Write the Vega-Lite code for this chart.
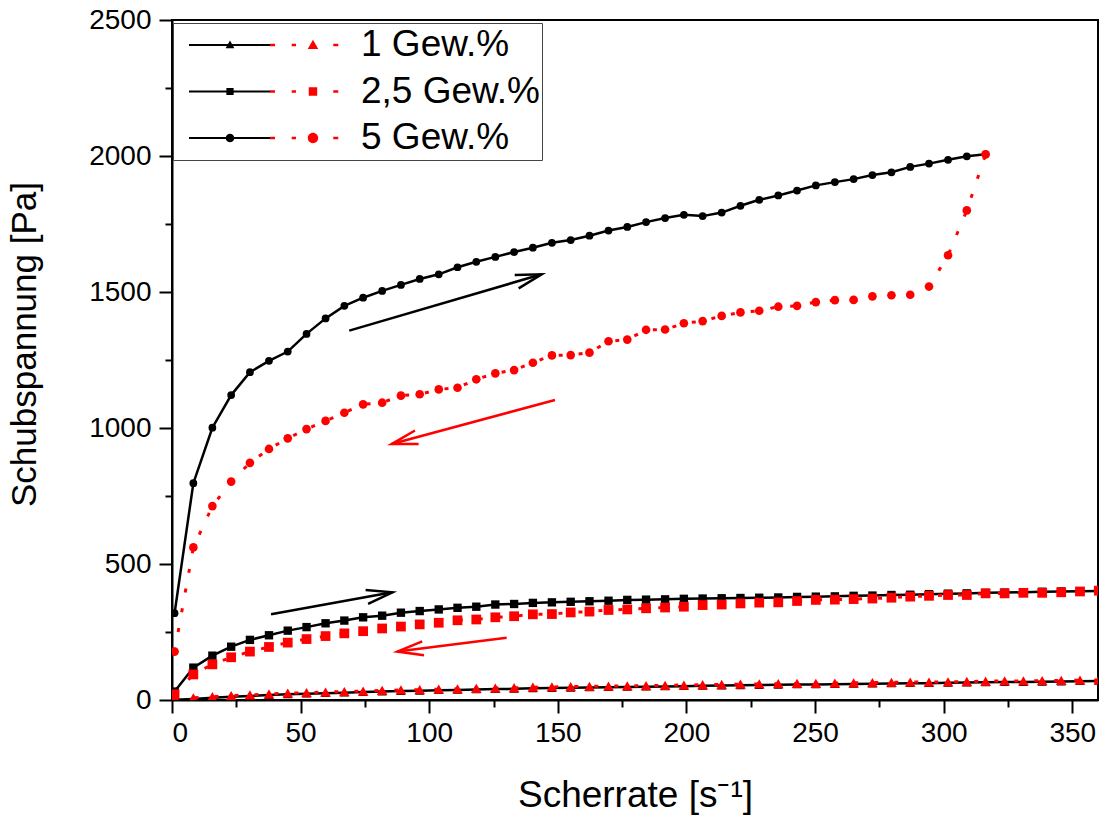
{
  "$schema": "https://vega.github.io/schema/vega-lite/v6.json",
  "width": 926,
  "height": 680,
  "autosize": {"type": "none"},
  "padding": {"left": 172, "top": 20, "right": 5, "bottom": 116},
  "background": "white",
  "config": {
    "font": "Liberation Sans",
    "view": {"stroke": "black", "strokeWidth": 2},
    "axis": {"grid": false, "domainColor": "black", "domainWidth": 2, "tickColor": "black", "tickWidth": 2, "labelColor": "black", "titleColor": "black", "labelFont": "Liberation Sans", "titleFont": "Liberation Sans", "labelFontSize": 28, "titleFontSize": 37, "titleFontWeight": "normal"}
  },
  "datasets": {
    "pfeile": [
      {"id": "a1", "x1": 68.9, "y1": 1358, "x2": 143.7, "y2": 1565},
      {"id": "a2", "x1": 38.5, "y1": 315, "x2": 85.7, "y2": 396},
      {"id": "a3", "x1": 148.9, "y1": 1103, "x2": 85.4, "y2": 941},
      {"id": "a4", "x1": 130.1, "y1": 229, "x2": 87.6, "y2": 178}
    ],
    "messung": [
      {"konz":"5 Gew.%","ri":"auf","rate":1,"tau":319},{"konz":"5 Gew.%","ri":"auf","rate":8.3,"tau":797},{"konz":"5 Gew.%","ri":"auf","rate":15.7,"tau":1001},{"konz":"5 Gew.%","ri":"auf","rate":23,"tau":1121},{"konz":"5 Gew.%","ri":"auf","rate":30.3,"tau":1205},{"konz":"5 Gew.%","ri":"auf","rate":37.7,"tau":1247},{"konz":"5 Gew.%","ri":"auf","rate":45,"tau":1281},{"konz":"5 Gew.%","ri":"auf","rate":52.3,"tau":1346},{"konz":"5 Gew.%","ri":"auf","rate":59.7,"tau":1403},{"konz":"5 Gew.%","ri":"auf","rate":67,"tau":1449},{"konz":"5 Gew.%","ri":"auf","rate":74.3,"tau":1479},{"konz":"5 Gew.%","ri":"auf","rate":81.7,"tau":1504},{"konz":"5 Gew.%","ri":"auf","rate":89,"tau":1526},{"konz":"5 Gew.%","ri":"auf","rate":96.3,"tau":1548},{"konz":"5 Gew.%","ri":"auf","rate":103.7,"tau":1565},{"konz":"5 Gew.%","ri":"auf","rate":111,"tau":1591},{"konz":"5 Gew.%","ri":"auf","rate":118.3,"tau":1611},{"konz":"5 Gew.%","ri":"auf","rate":125.7,"tau":1629},{"konz":"5 Gew.%","ri":"auf","rate":133,"tau":1647},{"konz":"5 Gew.%","ri":"auf","rate":140.3,"tau":1663},{"konz":"5 Gew.%","ri":"auf","rate":147.7,"tau":1681},{"konz":"5 Gew.%","ri":"auf","rate":155,"tau":1691},{"konz":"5 Gew.%","ri":"auf","rate":162.3,"tau":1707},{"konz":"5 Gew.%","ri":"auf","rate":169.7,"tau":1726},{"konz":"5 Gew.%","ri":"auf","rate":177,"tau":1739},{"konz":"5 Gew.%","ri":"auf","rate":184.3,"tau":1757},{"konz":"5 Gew.%","ri":"auf","rate":191.7,"tau":1772},{"konz":"5 Gew.%","ri":"auf","rate":199,"tau":1784},{"konz":"5 Gew.%","ri":"auf","rate":206.3,"tau":1779},{"konz":"5 Gew.%","ri":"auf","rate":213.7,"tau":1792},{"konz":"5 Gew.%","ri":"auf","rate":221,"tau":1817},{"konz":"5 Gew.%","ri":"auf","rate":228.3,"tau":1839},{"konz":"5 Gew.%","ri":"auf","rate":235.7,"tau":1855},{"konz":"5 Gew.%","ri":"auf","rate":243,"tau":1873},{"konz":"5 Gew.%","ri":"auf","rate":250.3,"tau":1892},{"konz":"5 Gew.%","ri":"auf","rate":257.7,"tau":1904},{"konz":"5 Gew.%","ri":"auf","rate":265,"tau":1915},{"konz":"5 Gew.%","ri":"auf","rate":272.3,"tau":1930},{"konz":"5 Gew.%","ri":"auf","rate":279.7,"tau":1940},{"konz":"5 Gew.%","ri":"auf","rate":287,"tau":1960},{"konz":"5 Gew.%","ri":"auf","rate":294.3,"tau":1972},{"konz":"5 Gew.%","ri":"auf","rate":301.7,"tau":1986},{"konz":"5 Gew.%","ri":"auf","rate":309,"tau":1999},{"konz":"5 Gew.%","ri":"auf","rate":316.3,"tau":2006},
      {"konz":"5 Gew.%","ri":"ab","rate":1,"tau":178},{"konz":"5 Gew.%","ri":"ab","rate":8.3,"tau":561},{"konz":"5 Gew.%","ri":"ab","rate":15.7,"tau":713},{"konz":"5 Gew.%","ri":"ab","rate":23,"tau":803},{"konz":"5 Gew.%","ri":"ab","rate":30.3,"tau":872},{"konz":"5 Gew.%","ri":"ab","rate":37.7,"tau":923},{"konz":"5 Gew.%","ri":"ab","rate":45,"tau":962},{"konz":"5 Gew.%","ri":"ab","rate":52.3,"tau":996},{"konz":"5 Gew.%","ri":"ab","rate":59.7,"tau":1026},{"konz":"5 Gew.%","ri":"ab","rate":67,"tau":1056},{"konz":"5 Gew.%","ri":"ab","rate":74.3,"tau":1087},{"konz":"5 Gew.%","ri":"ab","rate":81.7,"tau":1093},{"konz":"5 Gew.%","ri":"ab","rate":89,"tau":1119},{"konz":"5 Gew.%","ri":"ab","rate":96.3,"tau":1124},{"konz":"5 Gew.%","ri":"ab","rate":103.7,"tau":1142},{"konz":"5 Gew.%","ri":"ab","rate":111,"tau":1148},{"konz":"5 Gew.%","ri":"ab","rate":118.3,"tau":1179},{"konz":"5 Gew.%","ri":"ab","rate":125.7,"tau":1201},{"konz":"5 Gew.%","ri":"ab","rate":133,"tau":1213},{"konz":"5 Gew.%","ri":"ab","rate":140.3,"tau":1240},{"konz":"5 Gew.%","ri":"ab","rate":147.7,"tau":1267},{"konz":"5 Gew.%","ri":"ab","rate":155,"tau":1268},{"konz":"5 Gew.%","ri":"ab","rate":162.3,"tau":1277},{"konz":"5 Gew.%","ri":"ab","rate":169.7,"tau":1319},{"konz":"5 Gew.%","ri":"ab","rate":177,"tau":1325},{"konz":"5 Gew.%","ri":"ab","rate":184.3,"tau":1361},{"konz":"5 Gew.%","ri":"ab","rate":191.7,"tau":1362},{"konz":"5 Gew.%","ri":"ab","rate":199,"tau":1385},{"konz":"5 Gew.%","ri":"ab","rate":206.3,"tau":1393},{"konz":"5 Gew.%","ri":"ab","rate":213.7,"tau":1412},{"konz":"5 Gew.%","ri":"ab","rate":221,"tau":1425},{"konz":"5 Gew.%","ri":"ab","rate":228.3,"tau":1431},{"konz":"5 Gew.%","ri":"ab","rate":235.7,"tau":1446},{"konz":"5 Gew.%","ri":"ab","rate":243,"tau":1449},{"konz":"5 Gew.%","ri":"ab","rate":250.3,"tau":1463},{"konz":"5 Gew.%","ri":"ab","rate":257.7,"tau":1470},{"konz":"5 Gew.%","ri":"ab","rate":265,"tau":1471},{"konz":"5 Gew.%","ri":"ab","rate":272.3,"tau":1484},{"konz":"5 Gew.%","ri":"ab","rate":279.7,"tau":1488},{"konz":"5 Gew.%","ri":"ab","rate":287,"tau":1490},{"konz":"5 Gew.%","ri":"ab","rate":294.3,"tau":1520},{"konz":"5 Gew.%","ri":"ab","rate":301.7,"tau":1635},{"konz":"5 Gew.%","ri":"ab","rate":309,"tau":1800},{"konz":"5 Gew.%","ri":"ab","rate":316.3,"tau":2006},
      {"konz":"2,5 Gew.%","ri":"auf","rate":1,"tau":31},{"konz":"2,5 Gew.%","ri":"auf","rate":8.3,"tau":119},{"konz":"2,5 Gew.%","ri":"auf","rate":15.7,"tau":163},{"konz":"2,5 Gew.%","ri":"auf","rate":23,"tau":196},{"konz":"2,5 Gew.%","ri":"auf","rate":30.3,"tau":221},{"konz":"2,5 Gew.%","ri":"auf","rate":37.7,"tau":238},{"konz":"2,5 Gew.%","ri":"auf","rate":45,"tau":255},{"konz":"2,5 Gew.%","ri":"auf","rate":52.3,"tau":268},{"konz":"2,5 Gew.%","ri":"auf","rate":59.7,"tau":282},{"konz":"2,5 Gew.%","ri":"auf","rate":67,"tau":292},{"konz":"2,5 Gew.%","ri":"auf","rate":74.3,"tau":304},{"konz":"2,5 Gew.%","ri":"auf","rate":81.7,"tau":310},{"konz":"2,5 Gew.%","ri":"auf","rate":89,"tau":321},{"konz":"2,5 Gew.%","ri":"auf","rate":96.3,"tau":327},{"konz":"2,5 Gew.%","ri":"auf","rate":103.7,"tau":333},{"konz":"2,5 Gew.%","ri":"auf","rate":111,"tau":339},{"konz":"2,5 Gew.%","ri":"auf","rate":118.3,"tau":343},{"konz":"2,5 Gew.%","ri":"auf","rate":125.7,"tau":351},{"konz":"2,5 Gew.%","ri":"auf","rate":133,"tau":353},{"konz":"2,5 Gew.%","ri":"auf","rate":140.3,"tau":357},{"konz":"2,5 Gew.%","ri":"auf","rate":147.7,"tau":359},{"konz":"2,5 Gew.%","ri":"auf","rate":155,"tau":361},{"konz":"2,5 Gew.%","ri":"auf","rate":162.3,"tau":363},{"konz":"2,5 Gew.%","ri":"auf","rate":169.7,"tau":365},{"konz":"2,5 Gew.%","ri":"auf","rate":177,"tau":368},{"konz":"2,5 Gew.%","ri":"auf","rate":184.3,"tau":369},{"konz":"2,5 Gew.%","ri":"auf","rate":191.7,"tau":370},{"konz":"2,5 Gew.%","ri":"auf","rate":199,"tau":372},{"konz":"2,5 Gew.%","ri":"auf","rate":206.3,"tau":373},{"konz":"2,5 Gew.%","ri":"auf","rate":213.7,"tau":374},{"konz":"2,5 Gew.%","ri":"auf","rate":221,"tau":375},{"konz":"2,5 Gew.%","ri":"auf","rate":228.3,"tau":376},{"konz":"2,5 Gew.%","ri":"auf","rate":235.7,"tau":377},{"konz":"2,5 Gew.%","ri":"auf","rate":243,"tau":379},{"konz":"2,5 Gew.%","ri":"auf","rate":250.3,"tau":380},{"konz":"2,5 Gew.%","ri":"auf","rate":257.7,"tau":381},{"konz":"2,5 Gew.%","ri":"auf","rate":265,"tau":383},{"konz":"2,5 Gew.%","ri":"auf","rate":272.3,"tau":384},{"konz":"2,5 Gew.%","ri":"auf","rate":279.7,"tau":386},{"konz":"2,5 Gew.%","ri":"auf","rate":287,"tau":387},{"konz":"2,5 Gew.%","ri":"auf","rate":294.3,"tau":389},{"konz":"2,5 Gew.%","ri":"auf","rate":301.7,"tau":391},{"konz":"2,5 Gew.%","ri":"auf","rate":309,"tau":392},{"konz":"2,5 Gew.%","ri":"auf","rate":316.3,"tau":394},{"konz":"2,5 Gew.%","ri":"auf","rate":323.7,"tau":395},{"konz":"2,5 Gew.%","ri":"auf","rate":331,"tau":396},{"konz":"2,5 Gew.%","ri":"auf","rate":338.3,"tau":398},{"konz":"2,5 Gew.%","ri":"auf","rate":345.7,"tau":399},{"konz":"2,5 Gew.%","ri":"auf","rate":353,"tau":400},{"konz":"2,5 Gew.%","ri":"auf","rate":360.3,"tau":401},
      {"konz":"2,5 Gew.%","ri":"ab","rate":1,"tau":21},{"konz":"2,5 Gew.%","ri":"ab","rate":8.3,"tau":94},{"konz":"2,5 Gew.%","ri":"ab","rate":15.7,"tau":131},{"konz":"2,5 Gew.%","ri":"ab","rate":23,"tau":157},{"konz":"2,5 Gew.%","ri":"ab","rate":30.3,"tau":178},{"konz":"2,5 Gew.%","ri":"ab","rate":37.7,"tau":195},{"konz":"2,5 Gew.%","ri":"ab","rate":45,"tau":211},{"konz":"2,5 Gew.%","ri":"ab","rate":52.3,"tau":224},{"konz":"2,5 Gew.%","ri":"ab","rate":59.7,"tau":235},{"konz":"2,5 Gew.%","ri":"ab","rate":67,"tau":245},{"konz":"2,5 Gew.%","ri":"ab","rate":74.3,"tau":253},{"konz":"2,5 Gew.%","ri":"ab","rate":81.7,"tau":263},{"konz":"2,5 Gew.%","ri":"ab","rate":89,"tau":270},{"konz":"2,5 Gew.%","ri":"ab","rate":96.3,"tau":278},{"konz":"2,5 Gew.%","ri":"ab","rate":103.7,"tau":284},{"konz":"2,5 Gew.%","ri":"ab","rate":111,"tau":293},{"konz":"2,5 Gew.%","ri":"ab","rate":118.3,"tau":296},{"konz":"2,5 Gew.%","ri":"ab","rate":125.7,"tau":304},{"konz":"2,5 Gew.%","ri":"ab","rate":133,"tau":308},{"konz":"2,5 Gew.%","ri":"ab","rate":140.3,"tau":315},{"konz":"2,5 Gew.%","ri":"ab","rate":147.7,"tau":316},{"konz":"2,5 Gew.%","ri":"ab","rate":155,"tau":322},{"konz":"2,5 Gew.%","ri":"ab","rate":162.3,"tau":325},{"konz":"2,5 Gew.%","ri":"ab","rate":169.7,"tau":331},{"konz":"2,5 Gew.%","ri":"ab","rate":177,"tau":333},{"konz":"2,5 Gew.%","ri":"ab","rate":184.3,"tau":337},{"konz":"2,5 Gew.%","ri":"ab","rate":191.7,"tau":340},{"konz":"2,5 Gew.%","ri":"ab","rate":199,"tau":343},{"konz":"2,5 Gew.%","ri":"ab","rate":206.3,"tau":349},{"konz":"2,5 Gew.%","ri":"ab","rate":213.7,"tau":351},{"konz":"2,5 Gew.%","ri":"ab","rate":221,"tau":355},{"konz":"2,5 Gew.%","ri":"ab","rate":228.3,"tau":358},{"konz":"2,5 Gew.%","ri":"ab","rate":235.7,"tau":359},{"konz":"2,5 Gew.%","ri":"ab","rate":243,"tau":364},{"konz":"2,5 Gew.%","ri":"ab","rate":250.3,"tau":368},{"konz":"2,5 Gew.%","ri":"ab","rate":257.7,"tau":369},{"konz":"2,5 Gew.%","ri":"ab","rate":265,"tau":371},{"konz":"2,5 Gew.%","ri":"ab","rate":272.3,"tau":373},{"konz":"2,5 Gew.%","ri":"ab","rate":279.7,"tau":376},{"konz":"2,5 Gew.%","ri":"ab","rate":287,"tau":380},{"konz":"2,5 Gew.%","ri":"ab","rate":294.3,"tau":383},{"konz":"2,5 Gew.%","ri":"ab","rate":301.7,"tau":386},{"konz":"2,5 Gew.%","ri":"ab","rate":309,"tau":386},{"konz":"2,5 Gew.%","ri":"ab","rate":316.3,"tau":392},{"konz":"2,5 Gew.%","ri":"ab","rate":323.7,"tau":392},{"konz":"2,5 Gew.%","ri":"ab","rate":331,"tau":394},{"konz":"2,5 Gew.%","ri":"ab","rate":338.3,"tau":394},{"konz":"2,5 Gew.%","ri":"ab","rate":345.7,"tau":396},{"konz":"2,5 Gew.%","ri":"ab","rate":353,"tau":399},{"konz":"2,5 Gew.%","ri":"ab","rate":360.3,"tau":402},
      {"konz":"1 Gew.%","ri":"auf","rate":1,"tau":1},{"konz":"1 Gew.%","ri":"auf","rate":8.3,"tau":4},{"konz":"1 Gew.%","ri":"auf","rate":15.7,"tau":8},{"konz":"1 Gew.%","ri":"auf","rate":23,"tau":12},{"konz":"1 Gew.%","ri":"auf","rate":30.3,"tau":15},{"konz":"1 Gew.%","ri":"auf","rate":37.7,"tau":18},{"konz":"1 Gew.%","ri":"auf","rate":45,"tau":21},{"konz":"1 Gew.%","ri":"auf","rate":52.3,"tau":23},{"konz":"1 Gew.%","ri":"auf","rate":59.7,"tau":25},{"konz":"1 Gew.%","ri":"auf","rate":67,"tau":27},{"konz":"1 Gew.%","ri":"auf","rate":74.3,"tau":29},{"konz":"1 Gew.%","ri":"auf","rate":81.7,"tau":31},{"konz":"1 Gew.%","ri":"auf","rate":89,"tau":33},{"konz":"1 Gew.%","ri":"auf","rate":96.3,"tau":34},{"konz":"1 Gew.%","ri":"auf","rate":103.7,"tau":36},{"konz":"1 Gew.%","ri":"auf","rate":111,"tau":37},{"konz":"1 Gew.%","ri":"auf","rate":118.3,"tau":39},{"konz":"1 Gew.%","ri":"auf","rate":125.7,"tau":40},{"konz":"1 Gew.%","ri":"auf","rate":133,"tau":41},{"konz":"1 Gew.%","ri":"auf","rate":140.3,"tau":43},{"konz":"1 Gew.%","ri":"auf","rate":147.7,"tau":44},{"konz":"1 Gew.%","ri":"auf","rate":155,"tau":45},{"konz":"1 Gew.%","ri":"auf","rate":162.3,"tau":46},{"konz":"1 Gew.%","ri":"auf","rate":169.7,"tau":47},{"konz":"1 Gew.%","ri":"auf","rate":177,"tau":48},{"konz":"1 Gew.%","ri":"auf","rate":184.3,"tau":49},{"konz":"1 Gew.%","ri":"auf","rate":191.7,"tau":50},{"konz":"1 Gew.%","ri":"auf","rate":199,"tau":51},{"konz":"1 Gew.%","ri":"auf","rate":206.3,"tau":52},{"konz":"1 Gew.%","ri":"auf","rate":213.7,"tau":53},{"konz":"1 Gew.%","ri":"auf","rate":221,"tau":54},{"konz":"1 Gew.%","ri":"auf","rate":228.3,"tau":55},{"konz":"1 Gew.%","ri":"auf","rate":235.7,"tau":56},{"konz":"1 Gew.%","ri":"auf","rate":243,"tau":57},{"konz":"1 Gew.%","ri":"auf","rate":250.3,"tau":57},{"konz":"1 Gew.%","ri":"auf","rate":257.7,"tau":58},{"konz":"1 Gew.%","ri":"auf","rate":265,"tau":59},{"konz":"1 Gew.%","ri":"auf","rate":272.3,"tau":60},{"konz":"1 Gew.%","ri":"auf","rate":279.7,"tau":61},{"konz":"1 Gew.%","ri":"auf","rate":287,"tau":62},{"konz":"1 Gew.%","ri":"auf","rate":294.3,"tau":62},{"konz":"1 Gew.%","ri":"auf","rate":301.7,"tau":63},{"konz":"1 Gew.%","ri":"auf","rate":309,"tau":64},{"konz":"1 Gew.%","ri":"auf","rate":316.3,"tau":65},{"konz":"1 Gew.%","ri":"auf","rate":323.7,"tau":66},{"konz":"1 Gew.%","ri":"auf","rate":331,"tau":66},{"konz":"1 Gew.%","ri":"auf","rate":338.3,"tau":67},{"konz":"1 Gew.%","ri":"auf","rate":345.7,"tau":68},{"konz":"1 Gew.%","ri":"auf","rate":353,"tau":69},{"konz":"1 Gew.%","ri":"auf","rate":360.3,"tau":70},
      {"konz":"1 Gew.%","ri":"ab","rate":1,"tau":3},{"konz":"1 Gew.%","ri":"ab","rate":8.3,"tau":8},{"konz":"1 Gew.%","ri":"ab","rate":15.7,"tau":12},{"konz":"1 Gew.%","ri":"ab","rate":23,"tau":16},{"konz":"1 Gew.%","ri":"ab","rate":30.3,"tau":19},{"konz":"1 Gew.%","ri":"ab","rate":37.7,"tau":22},{"konz":"1 Gew.%","ri":"ab","rate":45,"tau":25},{"konz":"1 Gew.%","ri":"ab","rate":52.3,"tau":27},{"konz":"1 Gew.%","ri":"ab","rate":59.7,"tau":29},{"konz":"1 Gew.%","ri":"ab","rate":67,"tau":31},{"konz":"1 Gew.%","ri":"ab","rate":74.3,"tau":33},{"konz":"1 Gew.%","ri":"ab","rate":81.7,"tau":35},{"konz":"1 Gew.%","ri":"ab","rate":89,"tau":37},{"konz":"1 Gew.%","ri":"ab","rate":96.3,"tau":38},{"konz":"1 Gew.%","ri":"ab","rate":103.7,"tau":40},{"konz":"1 Gew.%","ri":"ab","rate":111,"tau":41},{"konz":"1 Gew.%","ri":"ab","rate":118.3,"tau":43},{"konz":"1 Gew.%","ri":"ab","rate":125.7,"tau":44},{"konz":"1 Gew.%","ri":"ab","rate":133,"tau":45},{"konz":"1 Gew.%","ri":"ab","rate":140.3,"tau":47},{"konz":"1 Gew.%","ri":"ab","rate":147.7,"tau":48},{"konz":"1 Gew.%","ri":"ab","rate":155,"tau":49},{"konz":"1 Gew.%","ri":"ab","rate":162.3,"tau":50},{"konz":"1 Gew.%","ri":"ab","rate":169.7,"tau":51},{"konz":"1 Gew.%","ri":"ab","rate":177,"tau":52},{"konz":"1 Gew.%","ri":"ab","rate":184.3,"tau":53},{"konz":"1 Gew.%","ri":"ab","rate":191.7,"tau":54},{"konz":"1 Gew.%","ri":"ab","rate":199,"tau":55},{"konz":"1 Gew.%","ri":"ab","rate":206.3,"tau":56},{"konz":"1 Gew.%","ri":"ab","rate":213.7,"tau":57},{"konz":"1 Gew.%","ri":"ab","rate":221,"tau":58},{"konz":"1 Gew.%","ri":"ab","rate":228.3,"tau":59},{"konz":"1 Gew.%","ri":"ab","rate":235.7,"tau":60},{"konz":"1 Gew.%","ri":"ab","rate":243,"tau":61},{"konz":"1 Gew.%","ri":"ab","rate":250.3,"tau":61},{"konz":"1 Gew.%","ri":"ab","rate":257.7,"tau":62},{"konz":"1 Gew.%","ri":"ab","rate":265,"tau":63},{"konz":"1 Gew.%","ri":"ab","rate":272.3,"tau":64},{"konz":"1 Gew.%","ri":"ab","rate":279.7,"tau":65},{"konz":"1 Gew.%","ri":"ab","rate":287,"tau":66},{"konz":"1 Gew.%","ri":"ab","rate":294.3,"tau":66},{"konz":"1 Gew.%","ri":"ab","rate":301.7,"tau":67},{"konz":"1 Gew.%","ri":"ab","rate":309,"tau":68},{"konz":"1 Gew.%","ri":"ab","rate":316.3,"tau":69},{"konz":"1 Gew.%","ri":"ab","rate":323.7,"tau":70},{"konz":"1 Gew.%","ri":"ab","rate":331,"tau":70},{"konz":"1 Gew.%","ri":"ab","rate":338.3,"tau":71},{"konz":"1 Gew.%","ri":"ab","rate":345.7,"tau":72},{"konz":"1 Gew.%","ri":"ab","rate":353,"tau":73},{"konz":"1 Gew.%","ri":"ab","rate":360.3,"tau":74}
    ]
  },
  "resolve": {
    "scale": {"shape": "independent", "size": "independent", "color": "independent"},
    "axis": {"x": "independent", "y": "independent"}
  },
  "layer": [
    {
      "data": {"name": "messung"},
      "transform": [{"filter": "datum.ri == 'auf'"}],
      "mark": {"type": "line", "color": "black", "strokeWidth": 2.5, "clip": true},
      "encoding": {
        "x": {"field": "rate", "type": "quantitative", "scale": {"domain": [0, 360], "nice": false, "zero": false},
              "axis": {"orient": "bottom", "title": "Scherrate [s⁻¹]", "values": [0, 50, 100, 150, 200, 250, 300, 350], "format": "d", "tickSize": 13, "labelPadding": 6, "titlePadding": 30}},
        "y": {"field": "tau", "type": "quantitative", "scale": {"domain": [0, 2500], "nice": false},
              "axis": {"orient": "left", "title": "Schubspannung [Pa]", "values": [0, 500, 1000, 1500, 2000, 2500], "format": "d", "tickSize": 13, "labelPadding": 8, "titlePadding": 46, "titleFontSize": 35, "titleY": 324}},
        "detail": {"field": "konz"}
      }
    },
    {
      "data": {"name": "messung"},
      "transform": [{"filter": "datum.ri == 'auf'"}],
      "mark": {"type": "point", "filled": true, "opacity": 1, "color": "black", "clip": true},
      "encoding": {
        "x": {"field": "rate", "type": "quantitative", "axis": null},
        "y": {"field": "tau", "type": "quantitative", "axis": null},
        "shape": {"field": "konz", "type": "nominal", "scale": {"domain": ["1 Gew.%", "2,5 Gew.%", "5 Gew.%"], "range": ["triangle-up", "square", "circle"]}, "legend": null},
        "size": {"field": "konz", "type": "nominal", "scale": {"domain": ["1 Gew.%", "2,5 Gew.%", "5 Gew.%"], "range": [80, 60, 85]}, "legend": null}
      }
    },
    {
      "data": {"name": "messung"},
      "transform": [{"filter": "datum.ri == 'ab'"}],
      "mark": {"type": "line", "color": "#ff0000", "strokeWidth": 3, "strokeDash": [4, 16], "clip": true},
      "encoding": {
        "x": {"field": "rate", "type": "quantitative",
              "axis": {"orient": "bottom", "title": null, "values": [25, 75, 125, 175, 225, 275, 325], "labels": false, "domain": false, "tickSize": 7}},
        "y": {"field": "tau", "type": "quantitative",
              "axis": {"orient": "left", "title": null, "values": [250, 750, 1250, 1750, 2250], "labels": false, "domain": false, "tickSize": 7}},
        "detail": {"field": "konz"}
      }
    },
    {
      "data": {"name": "messung"},
      "transform": [{"filter": "datum.ri == 'ab'"}],
      "mark": {"type": "point", "filled": true, "opacity": 1, "color": "#ff0000", "clip": true},
      "encoding": {
        "x": {"field": "rate", "type": "quantitative", "axis": null},
        "y": {"field": "tau", "type": "quantitative", "axis": null},
        "shape": {"field": "konz", "type": "nominal", "scale": {"domain": ["1 Gew.%", "2,5 Gew.%", "5 Gew.%"], "range": ["triangle-up", "square", "circle"]}, "legend": null},
        "size": {"field": "konz", "type": "nominal", "scale": {"domain": ["1 Gew.%", "2,5 Gew.%", "5 Gew.%"], "range": [115, 75, 105]}, "legend": null}
      }
    },
    {
      "data": {"name": "pfeile"},
      "mark": {"type": "rule", "strokeWidth": 2.5},
      "encoding": {
        "x": {"field": "x1", "type": "quantitative", "axis": null},
        "y": {"field": "y1", "type": "quantitative", "axis": null},
        "x2": {"field": "x2"},
        "y2": {"field": "y2"},
        "color": {"field": "id", "type": "nominal", "scale": {"domain": ["a1", "a2", "a3", "a4"], "range": ["black", "black", "#ff0000", "#ff0000"]}, "legend": null}
      }
    },
    {
      "data": {"name": "pfeile"},
      "mark": {"type": "point", "filled": false, "opacity": 1, "strokeWidth": 2.5, "size": 2704},
      "encoding": {
        "x": {"field": "x2", "type": "quantitative", "axis": null},
        "y": {"field": "y2", "type": "quantitative", "axis": null},
        "shape": {"field": "id", "type": "nominal", "scale": {"domain": ["a1", "a2", "a3", "a4"], "range": ["M-1.036,0.022L0,0L-0.884,0.54", "M-1.032,-0.087L0,0L-0.936,0.445", "M1.036,0L0,0L0.895,-0.521", "M1.026,0.141L0,0L0.958,-0.395"]}, "legend": null},
        "color": {"field": "id", "type": "nominal", "scale": {"domain": ["a1", "a2", "a3", "a4"], "range": ["black", "black", "#ff0000", "#ff0000"]}, "legend": null}
      }
    },
    {
      "data": {"name": "messung"},
      "transform": [{"filter": "datum.konz == 'keine'"}],
      "mark": {"type": "point", "filled": true, "opacity": 1, "color": "black"},
      "encoding": {
        "shape": {"field": "konz", "type": "nominal",
          "scale": {"domain": ["1 Gew.%", "2,5 Gew.%", "5 Gew.%"], "range": [
            "M-1,-0.0135L0.073,-0.0135L0.073,0.0135L-1,0.0135ZM-0.457,-0.06L-0.399,0.043L-0.515,0.043Z",
            "M-1,-0.0135L0.073,-0.0135L0.073,0.0135L-1,0.0135ZM-0.505,-0.048L-0.409,-0.048L-0.409,0.048L-0.505,0.048Z",
            "M-1,-0.0135L0.073,-0.0135L0.073,0.0135L-1,0.0135ZM-0.4,0A0.057,0.057,0,1,1,-0.514,0A0.057,0.057,0,1,1,-0.4,0Z"]},
          "legend": {"title": null, "orient": "none", "legendX": 1, "legendY": 3, "direction": "vertical", "padding": 2, "clipHeight": 40, "rowPadding": 6.5,
            "symbolSize": 22801, "symbolOffset": 14, "symbolFillColor": "black", "symbolStrokeColor": "black", "symbolStrokeWidth": 0, "symbolOpacity": 1,
            "labelOffset": 21, "labelFont": "Liberation Sans", "labelFontSize": 37, "labelColor": "black", "labelLimit": 400,
            "strokeColor": "#444444"}
        }
      }
    },
    {
      "data": {"name": "messung"},
      "transform": [{"filter": "datum.konz == 'keine'"}],
      "mark": {"type": "point", "filled": true, "opacity": 1, "color": "#ff0000"},
      "encoding": {
        "shape": {"field": "konz", "type": "nominal",
          "scale": {"domain": ["1 Gew.%", "2,5 Gew.%", "5 Gew.%"], "range": [
            "M0.073,-0.018L0.139,-0.018L0.139,0.018L0.073,0.018ZM0.36,-0.018L0.417,-0.018L0.417,0.018L0.36,0.018ZM0.911,-0.018L0.977,-0.018L0.977,0.018L0.911,0.018ZM0.642,-0.07L0.712,0.053L0.572,0.053Z",
            "M0.073,-0.018L0.139,-0.018L0.139,0.018L0.073,0.018ZM0.36,-0.018L0.417,-0.018L0.417,0.018L0.36,0.018ZM0.911,-0.018L0.977,-0.018L0.977,0.018L0.911,0.018ZM0.586,-0.056L0.698,-0.056L0.698,0.056L0.586,0.056Z",
            "M0.073,-0.018L0.139,-0.018L0.139,0.018L0.073,0.018ZM0.36,-0.018L0.417,-0.018L0.417,0.018L0.36,0.018ZM0.911,-0.018L0.977,-0.018L0.977,0.018L0.911,0.018ZM0.711,0A0.069,0.069,0,1,1,0.573,0A0.069,0.069,0,1,1,0.711,0Z"]},
          "legend": {"title": null, "orient": "none", "legendX": 1, "legendY": 3, "direction": "vertical", "padding": 2, "clipHeight": 40, "rowPadding": 6.5,
            "symbolSize": 22801, "symbolOffset": 14, "symbolFillColor": "#ff0000", "symbolStrokeColor": "#ff0000", "symbolStrokeWidth": 0, "symbolOpacity": 1,
            "labelOffset": 21, "labelFont": "Liberation Sans", "labelFontSize": 37, "labelColor": "black", "labelLimit": 400,
            "labelExpr": "''"}
        }
      }
    }
  ]
}
